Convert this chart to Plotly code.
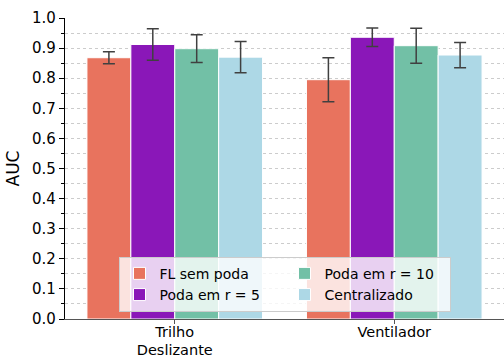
import plotly.graph_objects as go

categories = ["Trilho<br>Deslizante", "Ventilador"]
series_names = ["FL sem poda", "Poda em r = 5", "Poda em r = 10", "Centralizado"]
fl_sem_poda = [0.868, 0.795]
fl_sem_poda_err = [0.020, 0.073]
poda_r5 = [0.912, 0.936]
poda_r5_err = [0.052, 0.031]
poda_r10 = [0.898, 0.908]
poda_r10_err = [0.046, 0.058]
centralizado = [0.870, 0.877]
centralizado_err = [0.052, 0.042]

values = [fl_sem_poda, poda_r5, poda_r10, centralizado]
errors = [fl_sem_poda_err, poda_r5_err, poda_r10_err, centralizado_err]
colors = ["#E8735E", "#8A17B8", "#72C0A6", "#ADD8E6"]
ranks = [1, 3, 2, 4]

fig = go.Figure()
for name, v, e, c, r in zip(series_names, values, errors, colors, ranks):
    fig.add_trace(go.Bar(
        x=categories, y=v, name=name, legendrank=r,
        marker=dict(color=c, line=dict(color="white", width=1)),
        error_y=dict(type="data", array=e, visible=True, color="#404040",
                     thickness=1.5, width=6),
    ))

fig.update_layout(
    width=504, height=358,
    margin=dict(l=65, r=0, t=18, b=39),
    plot_bgcolor="white", paper_bgcolor="white",
    font=dict(family="DejaVu Sans", size=14, color="black"),
    barmode="group", bargap=0.2, bargroupgap=0,
    showlegend=True,
    legend=dict(
        orientation="h", x=0.5, xanchor="center", y=0.024, yanchor="bottom",
        bgcolor="rgba(255,255,255,0.8)", bordercolor="#cccccc", borderwidth=1,
        font=dict(size=14), entrywidth=120, traceorder="normal",
        itemwidth=30,
    ),
    xaxis=dict(
        range=[-0.5, 1.5], showline=True, linecolor="#555555", linewidth=1.2,
        ticks="outside", ticklen=4, tickcolor="#555555", showgrid=False,
        tickfont=dict(size=14.5), automargin=False, ticklabelstandoff=-5,
    ),
    yaxis=dict(
        range=[0, 1.0], dtick=0.1, tickformat=".1f", showline=True,
        linecolor="black", linewidth=1.2, ticks="outside", ticklen=5,
        tickcolor="black", showgrid=True, gridcolor="#cccccc", griddash="dot",
        gridwidth=1, zeroline=False, automargin=False,
        tickfont=dict(size=15),
        title=dict(text="AUC", font=dict(size=17), standoff=8),
        minor=dict(dtick=0.05, ticks="outside", ticklen=3, tickcolor="black",
                   showgrid=True, gridcolor="#cccccc", griddash="dot", gridwidth=1),
    ),
)

fig.write_html("out.html", config={"displayModeBar": False},
               post_script="document.body.style.margin='0px';")
